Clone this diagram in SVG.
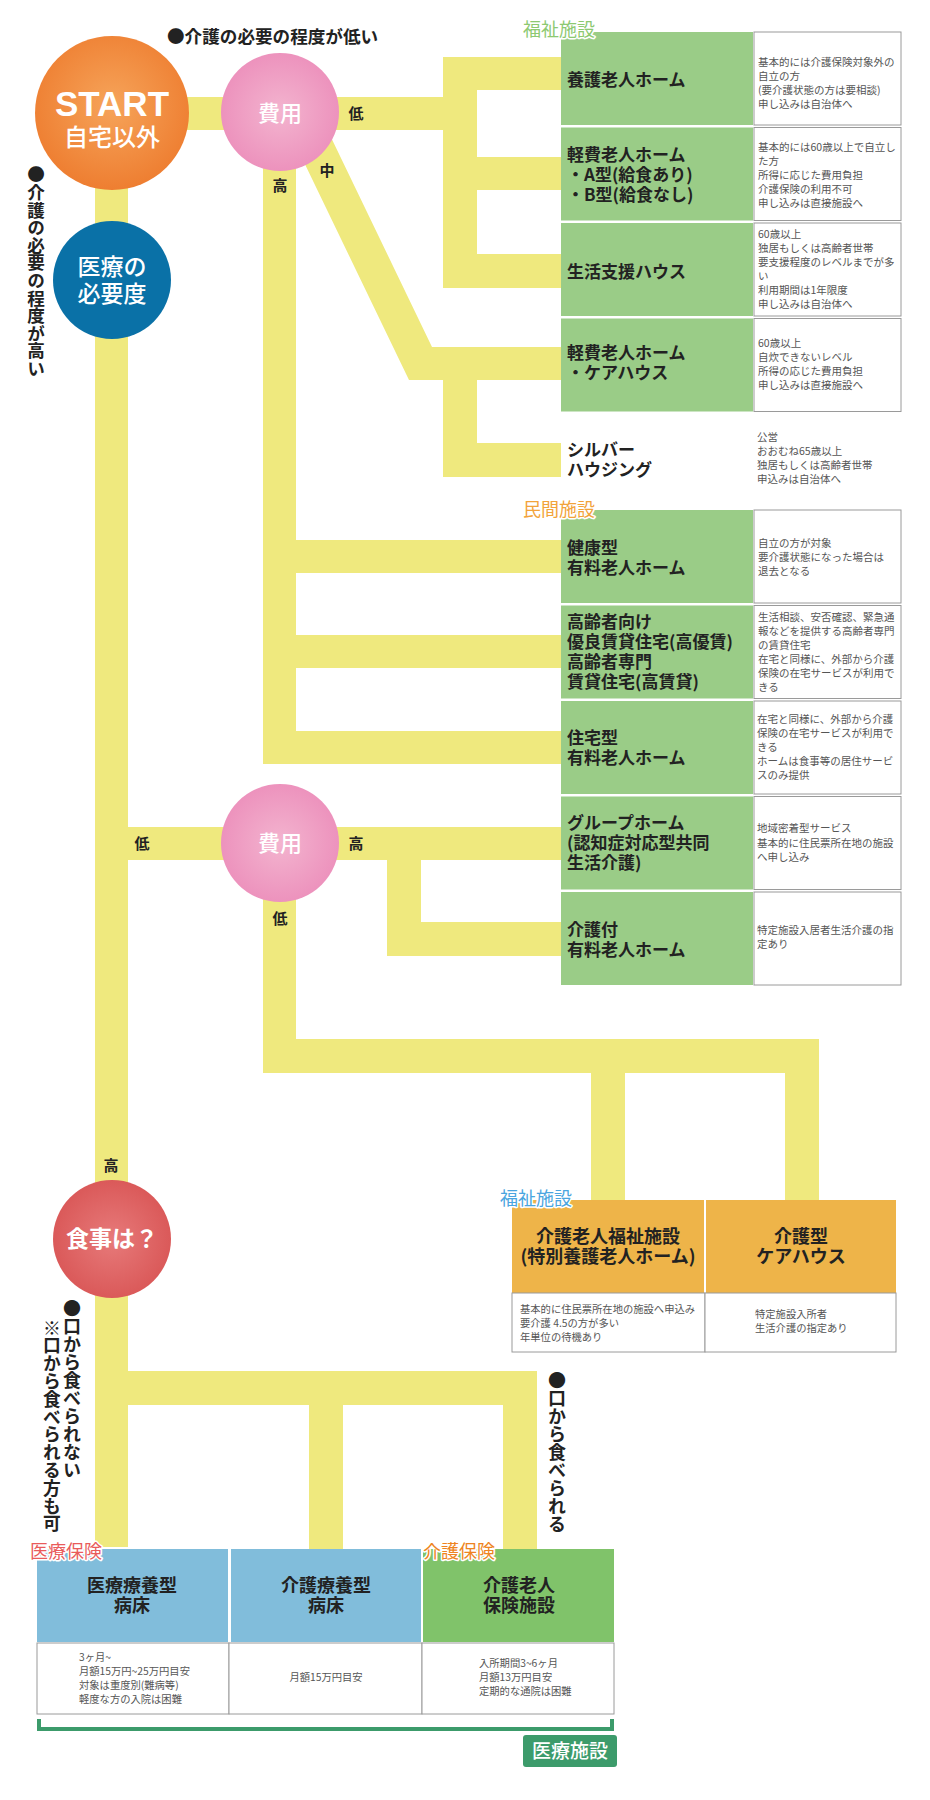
<svg xmlns="http://www.w3.org/2000/svg" width="930" height="1800" viewBox="0 0 930 1800">
<defs>
<radialGradient id="gStart" cx="50%" cy="45%" r="55%"><stop offset="0" stop-color="#f6a45a"/><stop offset="1" stop-color="#ee7e31"/></radialGradient>
<radialGradient id="gCost" cx="50%" cy="50%" r="55%"><stop offset="0" stop-color="#f3b4cf"/><stop offset="1" stop-color="#ec8fbb"/></radialGradient>
<radialGradient id="gMeal" cx="50%" cy="50%" r="55%"><stop offset="0" stop-color="#e77a7a"/><stop offset="1" stop-color="#d95656"/></radialGradient>
<style>
.bar{fill:#efe97e}
.gbox{fill:#9acc87}
.desc{fill:#fff;stroke:#9a9a9a;stroke-width:1}
.t{font-family:"Noto Sans CJK JP","Noto Sans",sans-serif;font-weight:bold;font-size:17px;fill:#222}
.d{font-family:"Noto Sans CJK JP","Noto Sans",sans-serif;font-size:10.5px;fill:#555}
.ds{font-family:"Noto Sans CJK JP","Noto Sans",sans-serif;font-size:10.3px;fill:#555}
.c{font-family:"Noto Sans CJK JP","Noto Sans",sans-serif;font-weight:bold;fill:#fff;text-anchor:middle}
.lab{font-family:"Noto Sans CJK JP","Noto Sans",sans-serif;font-weight:bold;font-size:15px;fill:#222;text-anchor:middle}
.cat{font-family:"Noto Sans CJK JP","Noto Sans",sans-serif;font-size:18px;stroke:#fff;stroke-width:3;paint-order:stroke;stroke-linejoin:round}
.v{font-family:"Noto Sans CJK JP","Noto Sans",sans-serif;font-weight:bold;font-size:17.6px;fill:#222;writing-mode:tb}
.bt{font-family:"Noto Sans CJK JP","Noto Sans",sans-serif;font-weight:bold;font-size:18px;fill:#222;text-anchor:middle}
</style>
</defs>
<rect width="930" height="1800" fill="#fff"/>

<g id="connectors">
<rect class="bar" x="95" y="150" width="33" height="1397"/>
<rect class="bar" x="112" y="97" width="365" height="33"/>
<rect class="bar" x="443" y="57" width="34" height="231"/>
<rect class="bar" x="443" y="57" width="118" height="33"/>
<rect class="bar" x="443" y="157" width="118" height="33"/>
<rect class="bar" x="443" y="254" width="118" height="34"/>
<polygon class="bar" points="274,100 313,100 432,347 561,347 561,380 409,380"/>
<rect class="bar" x="443" y="347" width="34" height="130"/>
<rect class="bar" x="443" y="443" width="118" height="34"/>
<rect class="bar" x="263" y="150" width="33" height="614"/>
<rect class="bar" x="263" y="540" width="298" height="33"/>
<rect class="bar" x="263" y="635" width="298" height="33"/>
<rect class="bar" x="263" y="731" width="298" height="33"/>
<rect class="bar" x="95" y="827" width="466" height="33"/>
<rect class="bar" x="387" y="827" width="34" height="129"/>
<rect class="bar" x="387" y="922" width="174" height="34"/>
<rect class="bar" x="263" y="860" width="33" height="213"/>
<rect class="bar" x="263" y="1039" width="556" height="34"/>
<rect class="bar" x="591" y="1060" width="34" height="140"/>
<rect class="bar" x="785" y="1060" width="34" height="140"/>
<rect class="bar" x="95" y="1371" width="442" height="34"/>
<rect class="bar" x="309" y="1371" width="34" height="178"/>
<rect class="bar" x="503" y="1371" width="34" height="178"/>
</g>

<g id="edge-labels">
<text class="lab" x="356" y="119">低</text>
<text class="lab" x="327" y="176">中</text>
<text class="lab" x="280" y="191">高</text>
<text class="lab" x="142" y="849">低</text>
<text class="lab" x="356" y="849">高</text>
<text class="lab" x="280" y="924">低</text>
<text class="lab" x="111" y="1171">高</text>
</g>

<g id="notes">
<text class="t" x="167" y="43" style="font-size:17.6px">●介護の必要の程度が低い</text>
<text class="v" x="36" y="166">●介護の必要の程度が高い</text>
<text class="v" x="72" y="1299" style="font-size:18px">●口から食べられない</text>
<text class="v" x="52" y="1319" style="font-size:17.8px">※口から食べられる方も可</text>
<text class="v" x="557" y="1371" style="font-size:18px">●口から食べられる</text>
</g>

<g id="start">
<circle cx="112" cy="113" r="77" fill="url(#gStart)"/>
<text class="c" x="112" y="116" style="font-size:35px;font-family:'Liberation Sans',Arial,sans-serif">START</text>
<text class="c" x="112" y="146" style="font-size:24px;font-weight:500">自宅以外</text>
</g>
<g id="cost1">
<circle cx="280" cy="112" r="59" fill="url(#gCost)"/>
<text class="c" x="280" y="121" style="font-size:22px;font-weight:500">費用</text>
</g>
<g id="medical-need">
<circle cx="112" cy="280" r="59" fill="#0a71a7"/>
<text class="c" x="112" y="275" style="font-size:23px;font-weight:500">医療の</text>
<text class="c" x="112" y="302" style="font-size:23px;font-weight:500">必要度</text>
</g>
<g id="cost2">
<circle cx="280" cy="843" r="59" fill="url(#gCost)"/>
<text class="c" x="280" y="851" style="font-size:22px;font-weight:500">費用</text>
</g>
<g id="meal">
<circle cx="112" cy="1239" r="59" fill="url(#gMeal)"/>
<text class="c" x="112" y="1247" style="font-size:23px">食事は？</text>
</g>

<g id="yogo">
<rect class="gbox" x="561" y="32" width="192" height="93"/>
<rect class="desc" x="754" y="32" width="147" height="93"/>
<text class="t" x="567" y="86">養護老人ホーム</text>
<text class="d" x="758" y="66">基本的には介護保険対象外の</text>
<text class="d" x="758" y="80">自立の方</text>
<text class="d" x="758" y="94">(要介護状態の方は要相談)</text>
<text class="d" x="758" y="108">申し込みは自治体へ</text>
</g>
<g id="keihi-ab">
<rect class="gbox" x="561" y="127.5" width="192" height="93"/>
<rect class="desc" x="754" y="127.5" width="147" height="93"/>
<text class="t" x="567" y="161">軽費老人ホーム</text>
<text class="t" x="567" y="181">・A型(給食あり)</text>
<text class="t" x="567" y="201">・B型(給食なし)</text>
<text class="d" x="758" y="151">基本的には60歳以上で自立し</text>
<text class="d" x="758" y="165">た方</text>
<text class="d" x="758" y="179">所得に応じた費用負担</text>
<text class="d" x="758" y="193">介護保険の利用不可</text>
<text class="d" x="758" y="207">申し込みは直接施設へ</text>
</g>
<g id="seikatsu">
<rect class="gbox" x="561" y="223" width="192" height="93"/>
<rect class="desc" x="754" y="223" width="147" height="93"/>
<text class="t" x="567" y="278">生活支援ハウス</text>
<text class="d" x="758" y="238">60歳以上</text>
<text class="d" x="758" y="252">独居もしくは高齢者世帯</text>
<text class="d" x="758" y="266">要支援程度のレベルまでが多</text>
<text class="d" x="758" y="280">い</text>
<text class="d" x="758" y="294">利用期間は1年限度</text>
<text class="d" x="758" y="308">申し込みは自治体へ</text>
</g>
<g id="carehouse">
<rect class="gbox" x="561" y="318.5" width="192" height="93"/>
<rect class="desc" x="754" y="318.5" width="147" height="93"/>
<text class="t" x="567" y="359">軽費老人ホーム</text>
<text class="t" x="567" y="379">・ケアハウス</text>
<text class="d" x="758" y="347">60歳以上</text>
<text class="d" x="758" y="361">自炊できないレベル</text>
<text class="d" x="758" y="375">所得の応じた費用負担</text>
<text class="d" x="758" y="389">申し込みは直接施設へ</text>
</g>
<g id="silver">
<text class="t" x="567" y="456">シルバー</text>
<text class="t" x="567" y="476">ハウジング</text>
<text class="d" x="757" y="441">公営</text>
<text class="d" x="757" y="455">おおむね65歳以上</text>
<text class="d" x="757" y="469">独居もしくは高齢者世帯</text>
<text class="d" x="757" y="483">申込みは自治体へ</text>
</g>
<g id="kenko">
<rect class="gbox" x="561" y="510" width="192" height="93"/>
<rect class="desc" x="754" y="510" width="147" height="93"/>
<text class="t" x="567" y="554">健康型</text>
<text class="t" x="567" y="574">有料老人ホーム</text>
<text class="d" x="758" y="547">自立の方が対象</text>
<text class="d" x="758" y="561">要介護状態になった場合は</text>
<text class="d" x="758" y="575">退去となる</text>
</g>
<g id="koyuchin">
<rect class="gbox" x="561" y="605.5" width="192" height="93"/>
<rect class="desc" x="754" y="605.5" width="147" height="93"/>
<text class="t" x="567" y="628">高齢者向け</text>
<text class="t" x="567" y="648">優良賃貸住宅(高優賃)</text>
<text class="t" x="567" y="668">高齢者専門</text>
<text class="t" x="567" y="688">賃貸住宅(高賃貸)</text>
<text class="d" x="758" y="621">生活相談、安否確認、緊急通</text>
<text class="d" x="758" y="635">報などを提供する高齢者専門</text>
<text class="d" x="758" y="649">の賃貸住宅</text>
<text class="d" x="758" y="663">在宅と同様に、外部から介護</text>
<text class="d" x="758" y="677">保険の在宅サービスが利用で</text>
<text class="d" x="758" y="691">きる</text>
</g>
<g id="jutaku">
<rect class="gbox" x="561" y="701" width="192" height="93"/>
<rect class="desc" x="754" y="701" width="147" height="93"/>
<text class="t" x="567" y="744">住宅型</text>
<text class="t" x="567" y="764">有料老人ホーム</text>
<text class="d" x="757" y="723">在宅と同様に、外部から介護</text>
<text class="d" x="757" y="737">保険の在宅サービスが利用で</text>
<text class="d" x="757" y="751">きる</text>
<text class="d" x="757" y="765">ホームは食事等の居住サービ</text>
<text class="d" x="757" y="779">スのみ提供</text>
</g>
<g id="grouphome">
<rect class="gbox" x="561" y="796.5" width="192" height="93"/>
<rect class="desc" x="754" y="796.5" width="147" height="93"/>
<text class="t" x="567" y="829">グループホーム</text>
<text class="t" x="567" y="849">(認知症対応型共同</text>
<text class="t" x="567" y="869">生活介護)</text>
<text class="d" x="757" y="832">地域密着型サービス</text>
<text class="d" x="757" y="847">基本的に住民票所在地の施設</text>
<text class="d" x="757" y="861">へ申し込み</text>
</g>
<g id="kaigotsuki">
<rect class="gbox" x="561" y="892" width="192" height="93"/>
<rect class="desc" x="754" y="892" width="147" height="93"/>
<text class="t" x="567" y="936">介護付</text>
<text class="t" x="567" y="956">有料老人ホーム</text>
<text class="d" x="757" y="934">特定施設入居者生活介護の指</text>
<text class="d" x="757" y="948">定あり</text>
</g>

<g id="tokuyo">
<rect x="512" y="1200" width="192" height="93" fill="#eeb449"/>
<rect class="desc" x="512" y="1293" width="193" height="59"/>
<text class="bt" x="608" y="1243">介護老人福祉施設</text>
<text class="bt" x="608" y="1263">(特別養護老人ホーム)</text>
<text class="ds" x="520" y="1313">基本的に住民票所在地の施設へ申込み</text>
<text class="ds" x="520" y="1327">要介護 4.5の方が多い</text>
<text class="ds" x="520" y="1341">年単位の待機あり</text>
</g>
<g id="kaigo-carehouse">
<rect x="706" y="1200" width="190" height="93" fill="#eeb449"/>
<rect class="desc" x="705" y="1293" width="191" height="59"/>
<text class="bt" x="801" y="1243">介護型</text>
<text class="bt" x="801" y="1263">ケアハウス</text>
<text class="ds" x="755" y="1318">特定施設入所者</text>
<text class="ds" x="755" y="1332">生活介護の指定あり</text>
</g>

<g id="iryo-ryoyo">
<rect x="37" y="1549" width="191" height="93" fill="#81bddb"/>
<rect class="desc" x="37" y="1643" width="192" height="71"/>
<text class="bt" x="132" y="1592">医療療養型</text>
<text class="bt" x="132" y="1612">病床</text>
<text class="ds" x="79" y="1661">3ヶ月~</text>
<text class="ds" x="79" y="1675">月額15万円~25万円目安</text>
<text class="ds" x="79" y="1689">対象は重度別(難病等)</text>
<text class="ds" x="79" y="1703">軽度な方の入院は困難</text>
</g>
<g id="kaigo-ryoyo">
<rect x="231" y="1549" width="190" height="93" fill="#81bddb"/>
<rect class="desc" x="229" y="1643" width="193" height="71"/>
<text class="bt" x="326" y="1592">介護療養型</text>
<text class="bt" x="326" y="1612">病床</text>
<text class="ds" x="326" y="1681" text-anchor="middle">月額15万円目安</text>
</g>
<g id="rokenshisetsu">
<rect x="423" y="1549" width="191" height="93" fill="#80c36a"/>
<rect class="desc" x="422" y="1643" width="192" height="71"/>
<text class="bt" x="519" y="1592">介護老人</text>
<text class="bt" x="519" y="1612">保険施設</text>
<text class="ds" x="479" y="1667">入所期間3~6ヶ月</text>
<text class="ds" x="479" y="1681">月額13万円目安</text>
<text class="ds" x="479" y="1695">定期的な通院は困難</text>
</g>

<g id="iryo-shisetsu">
<path d="M39 1719 V1729 H612 V1719" fill="none" stroke="#3c9b6b" stroke-width="4"/>
<rect x="523" y="1735" width="94" height="32" rx="3" fill="#3c9b6b"/>
<text class="c" x="570" y="1758" style="font-size:19px;font-weight:500">医療施設</text>
</g>

<g id="category-labels">
<text class="cat" x="523" y="36" fill="#8dc971">福祉施設</text>
<text class="cat" x="523" y="516" fill="#f2a33a">民間施設</text>
<text class="cat" x="500" y="1205" fill="#4aa5e0">福祉施設</text>
<text class="cat" x="30" y="1558" fill="#e95b5b">医療保険</text>
<text class="cat" x="423" y="1558" fill="#ee8421">介護保険</text>
</g>
</svg>
